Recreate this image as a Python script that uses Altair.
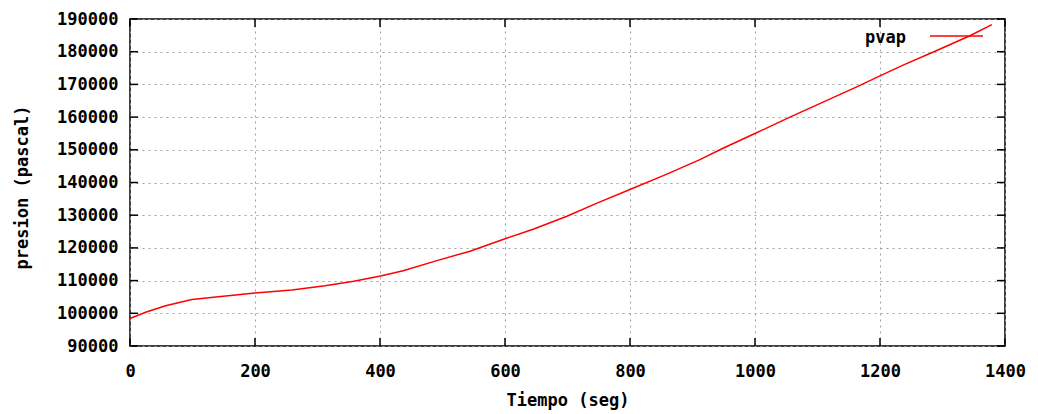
import altair as alt
import pandas as pd

# curve
tiempo = [0, 25, 57, 99, 153, 200, 259, 312, 358, 401, 437, 491, 544, 600, 645,
          698, 751, 799, 858, 911, 948, 999, 1055, 1108, 1161, 1200, 1236, 1289, 1343, 1379]
pvap = [98400, 100300, 102300, 104200, 105300, 106200, 107100, 108400, 109800, 111400,
        113000, 116100, 119000, 122800, 125700, 129600, 134000, 137800, 142500, 146900,
        150400, 154900, 159900, 164500, 169100, 172600, 175800, 180200, 184800, 188300]

x_ticks = [0, 200, 400, 600, 800, 1000, 1200, 1400]
y_ticks = [90000, 100000, 110000, 120000, 130000, 140000, 150000, 160000, 170000, 180000, 190000]

W, H = 875, 327
FONT = "DejaVu Sans Mono"

df = pd.DataFrame({"t": tiempo, "p": pvap})
xt = pd.DataFrame({"t": x_ticks})
yt = pd.DataFrame({"p": y_ticks})
one = pd.DataFrame({"s": ["pvap"]})

xs = alt.Scale(domain=[0, 1400], nice=False, zero=False)
ys = alt.Scale(domain=[90000, 190000], nice=False, zero=False)

x_axis = alt.Axis(values=x_ticks, format="d", tickSize=0, labelPadding=17,
                  labelBaseline="top", domain=False, labelFlush=False,
                  labelOverlap=False, titleY=59, titleBaseline="alphabetic")
y_axis = alt.Axis(values=y_ticks, format="d", tickSize=0, labelPadding=12,
                  domain=False, labelFlush=False, labelOverlap=False,
                  titleX=-108, titleY=168, titleBaseline="middle")

X = alt.X("t:Q", scale=xs, title="Tiempo (seg)", axis=x_axis)
Y = alt.Y("p:Q", scale=ys, title="presion (pascal)", axis=y_axis)

line = alt.Chart(df).mark_line(color="#ff0000", strokeWidth=1.5).encode(x=X, y=Y)

tick_b = alt.Chart(xt).mark_rule(color="black", strokeWidth=1.5).encode(
    x=X, y=alt.value(H), y2=alt.value(H - 8))
tick_t = alt.Chart(xt).mark_rule(color="black", strokeWidth=1.5).encode(
    x=X, y=alt.value(0), y2=alt.value(8))
tick_l = alt.Chart(yt).mark_rule(color="black", strokeWidth=1.5).encode(
    y=Y, x=alt.value(0), x2=alt.value(8))
tick_r = alt.Chart(yt).mark_rule(color="black", strokeWidth=1.5).encode(
    y=Y, x=alt.value(W), x2=alt.value(W - 8))

leg_text = alt.Chart(one).mark_text(
    font=FONT, fontSize=17, fontWeight="bold", align="right", baseline="middle",
    color="black").encode(text="s:N", x=alt.value(776), y=alt.value(19))
leg_line = alt.Chart(one).mark_rule(color="#ff0000", strokeWidth=1.5).encode(
    x=alt.value(800), x2=alt.value(853), y=alt.value(17))

chart = alt.layer(line, tick_b, tick_t, tick_l, tick_r, leg_line, leg_text).properties(
    width=W, height=H,
    background="white",
    autosize=alt.AutoSizeParams(type="none"),
    padding={"left": 130, "top": 19, "right": 33, "bottom": 68},
).configure_view(
    stroke="black", strokeWidth=1.5
).configure_axis(
    grid=True, gridColor="#a0a0a0", gridDash=[2, 4], gridWidth=1,
    labelFont=FONT, labelFontSize=17, labelFontWeight="bold", labelColor="black",
    titleFont=FONT, titleFontSize=17, titleFontWeight="bold", titleColor="black",
)

chart.save("out.html", embed_options={"renderer": "svg", "actions": False})
